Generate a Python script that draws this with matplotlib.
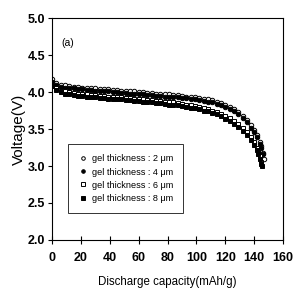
import matplotlib
matplotlib.use("Agg")
import matplotlib.pyplot as plt

plt.rcParams["font.family"] = ["Liberation Sans", "DejaVu Sans"]

# capacity points shared by all curves (mAh/g), then per-curve tails
cap_base = [0, 3, 6, 9, 12, 15, 18, 21, 24, 27, 30, 33, 36, 39, 42, 45, 48,
            51, 54, 57, 60, 63, 66, 69, 72, 75, 78, 81, 84, 87, 90, 93, 96,
            99, 102, 105, 108, 111, 114, 117, 120, 123, 126, 129, 132, 135, 138]

cap_2 = cap_base + [140, 142, 144, 145, 146, 147]
v_2 = [4.17, 4.12, 4.10, 4.09, 4.08, 4.07, 4.07, 4.06, 4.06, 4.05, 4.05, 4.04,
       4.04, 4.04, 4.03, 4.03, 4.02, 4.02, 4.01, 4.01, 4.00, 4.00, 3.99, 3.99,
       3.98, 3.98, 3.97, 3.97, 3.96, 3.96, 3.95, 3.94, 3.94, 3.93, 3.92, 3.91,
       3.90, 3.89, 3.87, 3.85, 3.83, 3.80, 3.77, 3.73, 3.68, 3.62, 3.55,
       3.49, 3.42, 3.33, 3.27, 3.18, 3.10]

cap_4 = cap_base + [140, 142, 144, 145, 146]
v_4 = [4.14, 4.09, 4.07, 4.06, 4.05, 4.05, 4.04, 4.04, 4.03, 4.03, 4.02, 4.02,
       4.01, 4.01, 4.00, 4.00, 3.99, 3.99, 3.98, 3.98, 3.97, 3.97, 3.96, 3.96,
       3.95, 3.95, 3.94, 3.94, 3.93, 3.93, 3.92, 3.92, 3.91, 3.90, 3.89, 3.88,
       3.87, 3.86, 3.84, 3.82, 3.80, 3.77, 3.74, 3.70, 3.65, 3.59, 3.52,
       3.46, 3.39, 3.30, 3.24, 3.16]

cap_6 = cap_base + [140, 142, 143, 144, 145]
v_6 = [4.10, 4.05, 4.02, 4.01, 4.00, 3.99, 3.98, 3.98, 3.97, 3.96, 3.96, 3.95,
       3.95, 3.94, 3.94, 3.93, 3.93, 3.92, 3.92, 3.91, 3.91, 3.90, 3.89, 3.89,
       3.88, 3.88, 3.87, 3.86, 3.86, 3.85, 3.84, 3.83, 3.82, 3.81, 3.80, 3.79,
       3.77, 3.75, 3.73, 3.71, 3.68, 3.65, 3.61, 3.57, 3.52, 3.46, 3.39,
       3.33, 3.25, 3.20, 3.13, 3.06]

cap_8 = cap_base + [140, 142, 143, 144, 145, 145.5]
v_8 = [4.08, 4.03, 4.00, 3.98, 3.97, 3.96, 3.95, 3.95, 3.94, 3.93, 3.93, 3.92,
       3.92, 3.91, 3.91, 3.90, 3.90, 3.89, 3.89, 3.88, 3.88, 3.87, 3.86, 3.86,
       3.85, 3.85, 3.84, 3.83, 3.83, 3.82, 3.81, 3.80, 3.79, 3.78, 3.77, 3.75,
       3.74, 3.72, 3.70, 3.67, 3.64, 3.61, 3.57, 3.53, 3.48, 3.42, 3.35,
       3.29, 3.21, 3.16, 3.09, 3.03, 3.00]

labels = ["gel thickness : 2 \u03bcm", "gel thickness : 4 \u03bcm",
          "gel thickness : 6 \u03bcm", "gel thickness : 8 \u03bcm"]

fig = plt.figure(figsize=(2.97, 2.97), dpi=100)
ax = fig.add_axes([0.175, 0.192, 0.778, 0.747])

ms = 3.2
ax.plot(cap_2, v_2, "o", ms=ms, mfc="white", mec="black", mew=0.7, label=labels[0])
ax.plot(cap_4, v_4, "o", ms=ms, mfc="black", mec="black", mew=0.7, label=labels[1])
ax.plot(cap_6, v_6, "s", ms=ms, mfc="white", mec="black", mew=0.7, label=labels[2])
ax.plot(cap_8, v_8, "s", ms=ms, mfc="black", mec="black", mew=0.7, label=labels[3])

ax.set_xlim(0, 160)
ax.set_ylim(2.0, 5.0)
ax.set_xticks(range(0, 161, 20))
ax.set_yticks([2.0, 2.5, 3.0, 3.5, 4.0, 4.5, 5.0])
ax.set_yticklabels(["2.0", "2.5", "3.0", "3.5", "4.0", "4.5", "5.0"])
ax.tick_params(axis="x", direction="inout", length=6, width=0.8, labelsize=9, pad=6)
ax.tick_params(axis="y", direction="out", length=3, width=0.8, labelsize=9, pad=2)
for t in ax.get_xticklabels() + ax.get_yticklabels():
    t.set_fontweight("bold")
for s in ax.spines.values():
    s.set_linewidth(0.8)

ax.set_xlabel("Discharge capacity(mAh/g)", fontsize=8.3, labelpad=8)
ax.set_ylabel("Voltage(V)", fontsize=11, labelpad=1)

ax.text(0.04, 0.89, "(a)", transform=ax.transAxes, fontsize=7.5, va="center")

leg = ax.legend(loc="lower left", bbox_to_anchor=(0.069, 0.122), fontsize=6.6,
                frameon=True, fancybox=False, edgecolor="black",
                handletextpad=0.5, borderpad=1.1, labelspacing=0.45,
                handlelength=1.0, markerscale=0.8, borderaxespad=0)
leg.get_frame().set_linewidth(0.7)

fig.savefig("out.png", dpi=100)
